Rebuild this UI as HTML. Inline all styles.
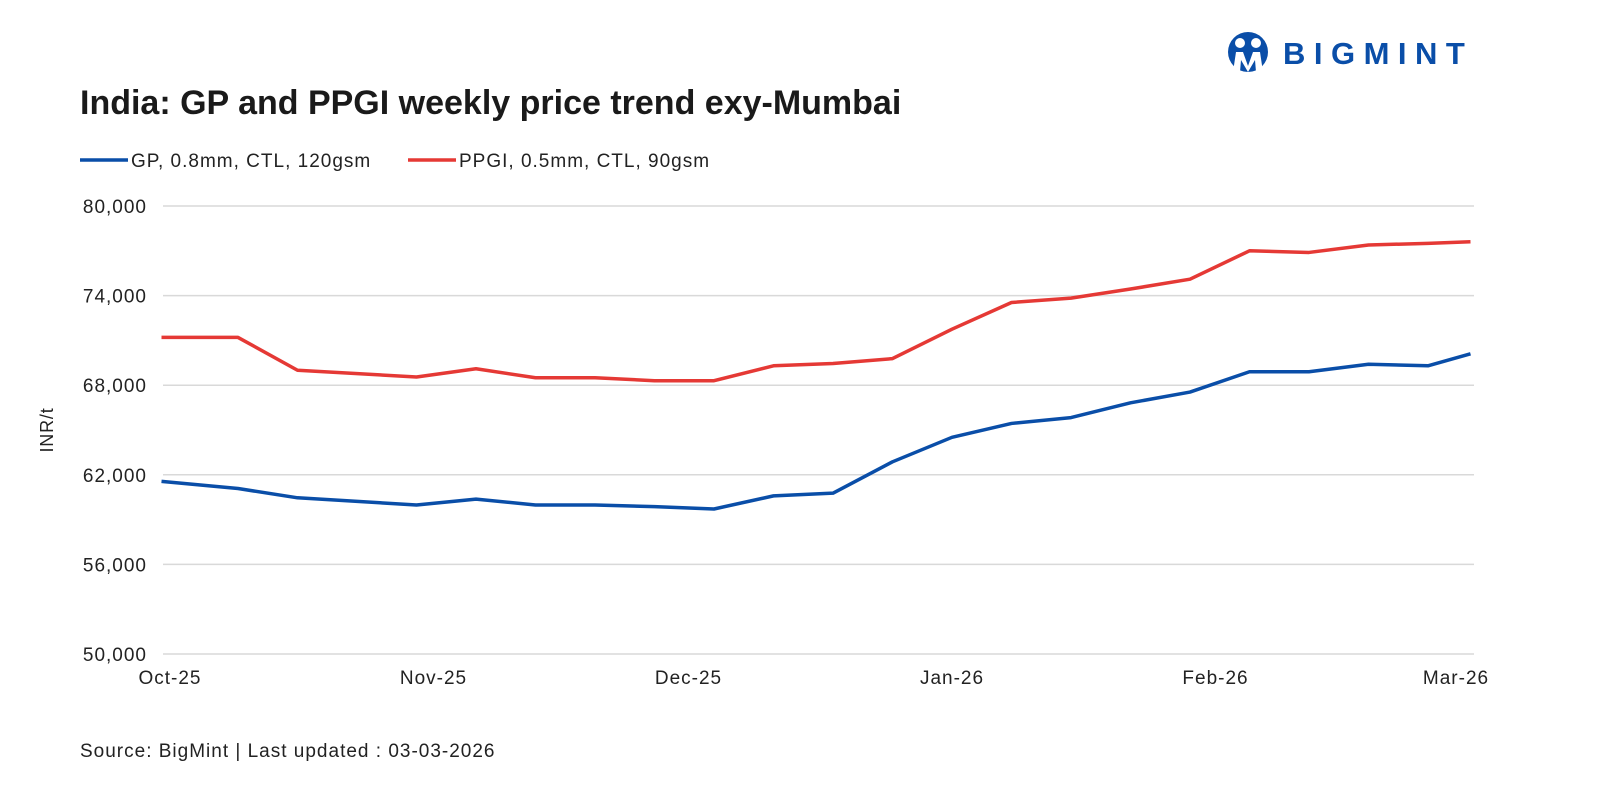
<!DOCTYPE html>
<html><head><meta charset="utf-8"><style>
body{margin:0;background:#fff;font-family:"Liberation Sans",sans-serif;}
#wrap{position:relative;width:1600px;height:800px;overflow:hidden;}
</style></head><body>
<div id="wrap">
<svg id="svg" width="1600" height="800">
  <g>
    <circle cx="1248" cy="52" r="20" fill="#0a4ea8"/>
    <circle cx="1240" cy="43" r="5" fill="#fff"/>
    <circle cx="1256" cy="43" r="5" fill="#fff"/>
    <path d="M1233 72 L1236 52 L1243 52 L1248 66 L1253 52 L1260 52 L1263 72 L1256 72 L1255 60 L1248 72 L1241 60 L1240 72 Z" fill="#fff"/>
    <text x="1283" y="64" font-size="31" font-weight="bold" fill="#0a4ea8" letter-spacing="8.5">BIGMINT</text>
  </g>
  <text x="80" y="114" font-size="34" font-weight="bold" fill="#1a1a1a">India: GP and PPGI weekly price trend exy-Mumbai</text>
  <g font-size="19" letter-spacing="1">
    <g>
      <line x1="80" y1="160" x2="128" y2="160" stroke="#0a4ea8" stroke-width="3.5"/>
      <text x="131" y="167" fill="#222">GP, 0.8mm, CTL, 120gsm</text>
    </g>
    <g>
      <line x1="408" y1="160" x2="456" y2="160" stroke="#e53935" stroke-width="3.5"/>
      <text x="459" y="167" fill="#222">PPGI, 0.5mm, CTL, 90gsm</text>
    </g>
  </g>
  <g id="grid"></g>
  <g id="yticks"></g>
  <g id="xticks"></g>
  <text transform="translate(53,430) rotate(-90)" text-anchor="middle" font-size="18" letter-spacing="0.8" fill="#222">INR/t</text>
  <g id="series"></g>
  <text x="80" y="757" font-size="19" letter-spacing="1" fill="#222">Source: BigMint | Last updated : 03-03-2026</text>
</svg>
</div>
<script>
// day offsets from 1 Oct 2025
const days = [-1,8,15,29,36,43,50,57,64,71,78,85,92,99,106,113,120,127,134,141,148,153];
const gpValues = [61560,61080,60460,59980,60370,59980,59980,59870,59710,60590,60770,62870,64510,65440,65830,66820,67540,68900,68900,69400,69300,70100];
const ppgiValues = [71200,71200,69000,68550,69100,68500,68500,68300,68300,69300,69450,69780,71750,73540,73830,74440,75100,77000,76890,77390,77500,77610];
const yTicks = [50000,56000,62000,68000,74000,80000];
const xTickLabels = ["Oct-25","Nov-25","Dec-25","Jan-26","Feb-26","Mar-26"];
const xTickDays = [0,31,61,92,123,151];

const NS="http://www.w3.org/2000/svg";
const X0=163,X1=1474;
function xs(d){return 170+d*8.5;}
function ys(v){return 206+(80000-v)/30000*448;}
const grid=document.getElementById('grid'),yt=document.getElementById('yticks'),xt=document.getElementById('xticks'),ser=document.getElementById('series');
yTicks.forEach(v=>{
  const l=document.createElementNS(NS,'line');
  l.setAttribute('x1',X0);l.setAttribute('x2',X1);l.setAttribute('y1',ys(v));l.setAttribute('y2',ys(v));
  l.setAttribute('stroke','#d9d9d9');l.setAttribute('stroke-width','1.5');
  
  
  grid.appendChild(l);
  const t=document.createElementNS(NS,'text');
  t.setAttribute('x',147);t.setAttribute('y',ys(v)+7);t.setAttribute('text-anchor','end');
  t.setAttribute('font-size','19');t.setAttribute('letter-spacing','1');t.setAttribute('fill','#222');
  t.textContent=v.toLocaleString('en-US');
  
  
  yt.appendChild(t);
});
xTickLabels.forEach((s,i)=>{
  const t=document.createElementNS(NS,'text');
  let x=xs(xTickDays[i]);
  if(i===xTickLabels.length-1)x=1456;
  t.setAttribute('x',x);t.setAttribute('y',684);t.setAttribute('text-anchor','middle');
  t.setAttribute('font-size','19');t.setAttribute('letter-spacing','1');t.setAttribute('fill','#222');
  t.textContent=s;
  
  
  xt.appendChild(t);
});
function line(vals,color,name){
  const p=document.createElementNS(NS,'polyline');
  p.setAttribute('points',vals.map((v,i)=>xs(days[i])+','+ys(v)).join(' '));
  p.setAttribute('fill','none');p.setAttribute('stroke',color);p.setAttribute('stroke-width','3.5');
  p.setAttribute('stroke-linejoin','round');
  
  
  ser.appendChild(p);
}
line(ppgiValues,'#e53935','ppgi-line');
line(gpValues,'#0a4ea8','gp-line');
</script>
</body></html>
